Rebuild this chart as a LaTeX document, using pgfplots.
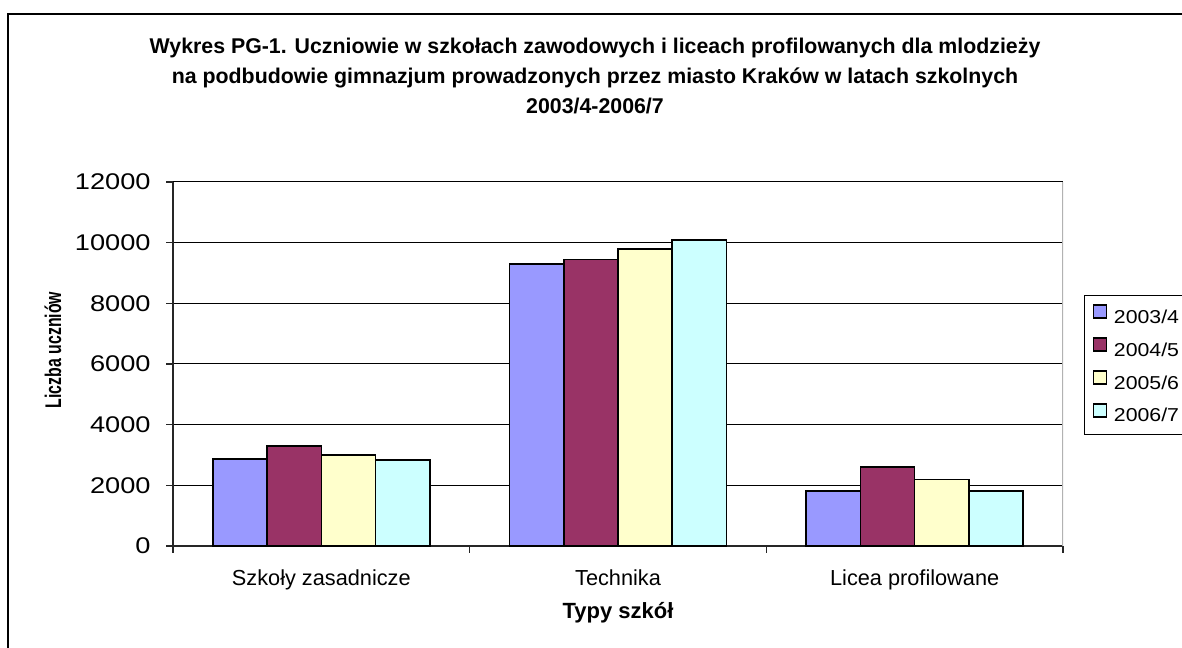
\documentclass[border=0pt]{standalone}
\usepackage{fontspec}
\setmainfont{Liberation Sans}
\newfontfamily\tickfont{Liberation Sans}[FakeStretch=1.2]
\newfontfamily\legfont{Liberation Sans}[FakeStretch=1.14]
\newfontfamily\ylabfont{Liberation Sans}[FakeStretch=0.7]
\usepackage{pgfplots}
\pgfplotsset{compat=1.18}
\definecolor{s1}{HTML}{9999FF}
\definecolor{s2}{HTML}{993366}
\definecolor{s3}{HTML}{FFFFCC}
\definecolor{s4}{HTML}{CCFFFF}

\begin{document}
\begin{tikzpicture}
\path[use as bounding box] (0,0) rectangle (886.5pt,-486pt);
% outer chart frame (cropped on the right and bottom)
\draw[line width=1.1pt] (6pt,-500pt) -- (6pt,-10.5pt) -- (900pt,-10.5pt);
% title
\begin{scope}[every node/.style={anchor=base, font=\bfseries\fontsize{16}{19}\selectfont}]
\node at (446.25pt,-40.3pt) {Wykres PG-1. Uczniowie w szkołach zawodowych i liceach profilowanych dla mlodzieży};
\node at (446.25pt,-62.8pt) {na podbudowie gimnazjum prowadzonych przez miasto Kraków w latach szkolnych};
\node at (446.25pt,-85.3pt) {2003/4-2006/7};
\end{scope}

\begin{axis}[
    at={(129.75pt,-409.5pt)}, anchor=south west,
    scale only axis, width=667.5pt, height=273pt,
    ybar=0pt, bar width=40.65pt,
    xmin=-0.5, xmax=2.5, ymin=0, ymax=12000,
    enlargelimits=false,
    axis x line*=bottom, axis y line*=left,
    axis line style={black!85, line width=1.1pt},
    xtick={0,1,2},
    xticklabels={Szkoły zasadnicze, Technika, Licea profilowane},
    minor xtick={-0.5,0.5,1.5,2.5},
    ytick={0,2000,4000,6000,8000,10000,12000},
    tick align=outside,
    major tick length=5pt, minor tick length=5pt,
    every major x tick/.append style={draw=none},
    every tick/.append style={black!85, line width=0.8pt},
    ymajorgrids, grid style={black, line width=0.75pt},
    scaled y ticks=false,
    /pgf/number format/1000 sep={},
    /pgf/number format/assume math mode=true,
    yticklabel style={font=\tickfont\fontsize{17}{19}\selectfont, anchor=east, inner sep=0pt, xshift=-11.6pt},
    xticklabel style={font=\fontsize{16.3}{18}\selectfont, anchor=base, inner sep=0pt, yshift=-24.25pt},
    xlabel={Typy szkół},
    xlabel style={font=\bfseries\fontsize{16.5}{18}\selectfont, at={(axis description cs:0.5,-0.1978)}, anchor=base},
    ylabel={Liczba uczniów},
    ylabel style={font=\ylabfont\bfseries\fontsize{17}{19}\selectfont, at={(axis description cs:-0.1348,0.5385)}, anchor=center, rotate=0},
    legend style={at={(axis description cs:1.0236,0.6896)}, anchor=north west,
        draw=black, line width=0.75pt, fill=white,
        font=\legfont\fontsize{14}{16}\selectfont,
        inner xsep=6pt, inner ysep=6.75pt,
        row sep=7.5pt, column sep=5.25pt,
        nodes={inner sep=0pt, text height=10.5pt, text depth=3pt}},
    legend cell align=left,
    every axis plot/.append style={draw=black, line width=1.2pt,
        legend image code/.code={\draw[##1, line width=1.1pt] (0pt,0.1pt) rectangle (9.75pt,9.85pt);}},
]
\addplot[fill=s1] coordinates {(0,2875) (1,9290) (2,1820)};
\addplot[fill=s2] coordinates {(0,3290) (1,9440) (2,2600)};
\addplot[fill=s3] coordinates {(0,3005) (1,9785) (2,2195)};
\addplot[fill=s4] coordinates {(0,2830) (1,10080) (2,1820)};
\legend{2003/4,2004/5,2005/6,2006/7}
\draw[gray!60, line width=1.1pt] (rel axis cs:1,0) -- (rel axis cs:1,1);
\end{axis}
\end{tikzpicture}
\end{document}
